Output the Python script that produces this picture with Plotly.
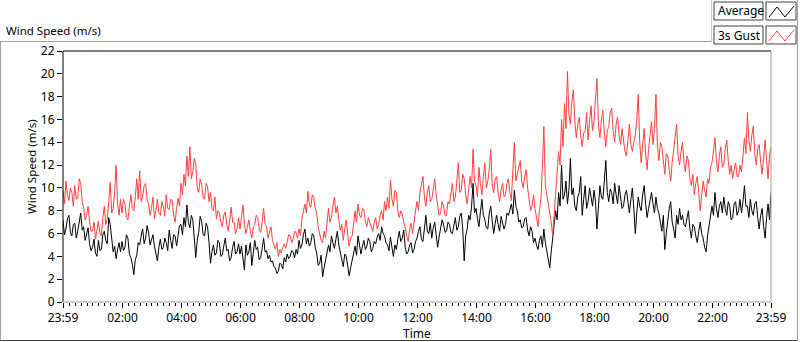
import plotly.graph_objects as go
import pandas as pd

# ---- data (3-minute samples) ----
start_time = "2020-01-01 23:59"
sample_minutes = 3

average = [
    7.2, 5.9, 6.4, 7.3, 7.6, 6.1, 5.8, 6.8, 6.9, 5.6, 6.2, 7.1, 7.8, 6.3, 6.6, 5.4, 5.9, 6.5, 5.1, 4.5,
    4.8, 5.5, 4.3, 4.0, 5.4, 4.5, 4.6, 5.9, 6.2, 5.4, 5.1, 7.4, 6.8, 5.6, 4.4, 4.9, 3.8, 4.6, 5.2, 4.4,
    5.3, 4.5, 4.8, 5.9, 5.6, 4.2, 3.9, 3.3, 2.4, 3.7, 4.1, 5.2, 5.0, 5.8, 6.4, 5.1, 5.6, 6.7, 6.1, 5.0,
    5.4, 5.9, 4.9, 4.3, 3.6, 4.8, 5.5, 4.6, 4.8, 5.6, 5.2, 4.5, 6.3, 5.4, 4.7, 5.9, 5.8, 4.9, 5.9, 6.7,
    6.8, 5.9, 7.4, 6.6, 8.5, 7.0, 6.5, 7.6, 7.2, 5.6, 3.9, 5.4, 6.1, 7.5, 7.1, 5.9, 5.8, 6.9, 6.6, 5.2,
    3.4, 4.4, 5.0, 4.1, 4.3, 5.4, 5.2, 4.0, 4.1, 4.9, 5.6, 4.5, 4.6, 3.6, 3.9, 4.8, 5.3, 4.2, 4.4, 5.1,
    4.2, 4.9, 3.6, 2.8, 5.0, 4.1, 4.4, 5.2, 3.2, 4.3, 5.4, 4.6, 4.8, 3.7, 3.9, 4.7, 5.6, 4.4, 4.5, 3.8,
    4.1, 3.5, 3.6, 3.1, 3.0, 2.5, 2.7, 3.4, 3.3, 2.9, 3.9, 3.5, 4.2, 3.8, 4.0, 4.5, 4.4, 3.9, 4.6, 4.2,
    5.4, 4.7, 5.0, 5.9, 6.4, 5.1, 5.6, 4.9, 5.2, 6.0, 5.8, 4.8, 4.3, 3.2, 3.4, 4.1, 2.2, 3.0, 3.8, 4.6,
    5.0, 4.4, 5.8, 5.2, 4.7, 5.5, 6.2, 5.0, 4.4, 3.6, 3.1, 4.2, 4.0, 3.2, 2.3, 3.0, 3.6, 4.4, 4.9, 4.1,
    5.8, 5.0, 4.2, 4.9, 5.4, 4.6, 4.9, 5.6, 5.3, 4.4, 4.7, 5.3, 5.1, 5.7, 6.0, 5.4, 6.6, 6.0, 5.8, 5.2,
    5.0, 4.5, 5.7, 4.8, 4.0, 5.0, 4.6, 5.5, 6.2, 5.3, 5.6, 6.3, 4.8, 4.2, 4.4, 5.0, 5.2, 4.3, 4.6, 5.3,
    5.6, 6.2, 6.6, 5.5, 5.3, 6.4, 7.6, 6.2, 6.0, 6.9, 5.6, 6.5, 7.0, 5.9, 4.8, 5.7, 6.4, 7.2, 6.8, 6.1,
    6.2, 7.0, 6.8, 6.1, 6.0, 6.9, 7.4, 6.3, 6.6, 7.5, 7.8, 6.4, 3.6, 5.8, 6.4, 7.6, 7.2, 8.4, 10.4, 7.8,
    8.2, 7.3, 6.6, 7.9, 9.0, 7.6, 7.2, 6.5, 6.4, 7.8, 8.4, 7.1, 6.0, 6.9, 7.6, 6.8, 6.2, 7.5, 7.0, 6.4,
    6.8, 7.8, 7.6, 8.2, 8.6, 7.7, 9.8, 8.4, 8.0, 7.0, 7.2, 6.5, 6.6, 7.3, 7.4, 6.3, 5.8, 6.6, 6.2, 5.2,
    5.6, 5.0, 4.6, 5.4, 5.8, 4.8, 6.4, 5.2, 4.4, 3.6, 3.0, 4.4, 5.6, 7.0, 8.0, 7.2, 9.6, 8.4, 12.0, 9.0,
    9.4, 10.6, 8.6, 9.8, 12.6, 9.4, 10.0, 8.4, 8.0, 9.2, 9.6, 11.0, 7.6, 9.0, 10.2, 8.2, 8.8, 10.0, 9.2, 8.4,
    9.8, 8.8, 6.4, 8.6, 10.2, 9.2, 9.0, 10.6, 12.4, 9.6, 8.8, 9.9, 9.6, 8.6, 10.4, 9.4, 8.6, 10.2, 9.4, 8.2,
    8.4, 9.4, 9.8, 8.6, 7.8, 9.0, 10.0, 8.2, 6.0, 7.8, 9.2, 8.4, 8.0, 9.4, 10.2, 8.6, 7.4, 8.2, 8.8, 9.6,
    8.6, 7.8, 9.2, 8.2, 7.8, 6.8, 6.2, 7.6, 4.6, 6.0, 7.4, 8.2, 8.8, 7.0, 6.4, 5.6, 7.6, 6.8, 8.2, 7.2,
    7.6, 6.8, 6.6, 7.4, 8.0, 6.4, 5.6, 6.8, 6.6, 5.8, 5.2, 6.2, 7.0, 6.0, 5.6, 4.8, 4.4, 5.8, 6.8, 7.6,
    8.4, 7.6, 9.6, 8.2, 7.4, 8.4, 8.8, 7.8, 9.2, 8.2, 7.6, 8.8, 8.4, 7.2, 7.4, 8.6, 8.8, 7.6, 8.0, 9.0,
    7.8, 8.8, 10.2, 8.4, 8.4, 7.4, 9.0, 8.0, 7.6, 8.6, 8.8, 7.4, 6.4, 7.6, 8.2, 6.6, 5.6, 7.4, 8.6, 7.2,
    9.6,
]

gust = [
    9.8, 8.6, 10.6, 9.4, 8.9, 10.0, 9.6, 8.4, 10.2, 9.0, 9.1, 10.8, 10.4, 8.8, 8.3, 7.2, 7.6, 8.4, 7.0, 6.2,
    6.2, 7.0, 5.5, 6.4, 7.1, 6.0, 5.8, 7.4, 8.4, 6.8, 7.3, 8.8, 10.5, 7.8, 8.2, 9.6, 12.0, 8.6, 7.6, 9.0,
    7.8, 9.0, 8.6, 7.4, 7.2, 8.4, 9.4, 8.2, 8.0, 9.2, 10.8, 9.0, 11.5, 8.8, 9.2, 10.2, 10.4, 9.0, 8.6, 7.6,
    8.2, 9.2, 7.3, 8.0, 9.0, 7.8, 7.6, 8.8, 8.4, 7.5, 9.4, 8.2, 8.1, 9.0, 8.9, 7.6, 7.0, 8.2, 9.1, 8.4,
    10.4, 9.4, 11.2, 10.2, 12.8, 11.0, 13.6, 10.8, 11.4, 12.6, 12.1, 10.0, 9.6, 10.8, 10.3, 9.2, 9.0, 10.4, 10.1, 8.8,
    9.6, 8.2, 8.0, 9.2, 7.3, 8.0, 7.8, 7.0, 6.6, 7.6, 7.9, 6.8, 6.2, 7.2, 8.3, 7.0, 7.0, 6.0, 6.4, 7.4,
    6.4, 7.4, 8.5, 6.8, 6.0, 6.6, 7.2, 6.2, 5.6, 6.6, 6.8, 7.6, 7.4, 6.4, 6.1, 7.0, 8.2, 6.8, 6.6, 5.6,
    6.0, 6.6, 5.4, 5.0, 4.6, 5.2, 4.0, 4.6, 4.3, 4.8, 5.1, 4.7, 5.4, 5.9, 5.8, 5.2, 5.5, 6.2, 6.1, 5.6,
    6.4, 5.8, 7.3, 8.0, 8.6, 7.8, 9.7, 8.6, 8.3, 9.4, 9.2, 8.2, 7.8, 6.6, 5.9, 5.4, 5.2, 6.2, 5.6, 6.8,
    8.2, 7.0, 7.4, 8.4, 9.2, 7.8, 8.4, 7.2, 6.3, 6.8, 5.4, 6.4, 7.2, 6.0, 4.9, 5.6, 5.8, 6.8, 8.0, 7.0,
    8.6, 7.6, 7.4, 8.2, 8.1, 7.0, 6.6, 7.4, 7.0, 6.4, 6.2, 7.0, 7.4, 6.4, 6.8, 7.6, 8.0, 7.2, 8.8, 8.0,
    9.2, 8.2, 10.7, 9.0, 8.4, 9.8, 9.6, 8.0, 7.4, 8.0, 7.7, 7.0, 6.6, 5.8, 5.3, 6.4, 6.9, 6.0, 7.2, 8.0,
    8.8, 8.0, 9.6, 10.4, 11.0, 9.2, 8.4, 9.6, 10.2, 8.8, 9.0, 9.8, 10.8, 9.4, 8.6, 7.6, 7.8, 8.8, 8.4, 7.6,
    7.6, 8.8, 8.6, 9.6, 10.4, 8.8, 9.2, 10.6, 12.2, 9.6, 9.8, 11.2, 10.8, 9.4, 8.6, 9.8, 11.0, 10.0, 13.4, 10.6,
    10.2, 9.2, 11.8, 10.4, 9.4, 11.0, 12.2, 10.0, 10.6, 11.6, 13.4, 10.2, 9.6, 10.8, 11.0, 9.6, 8.8, 9.8, 10.4, 9.2,
    9.4, 10.4, 10.8, 9.6, 8.9, 11.6, 14.0, 10.6, 11.2, 12.0, 12.4, 10.6, 10.0, 11.0, 11.6, 10.0, 9.2, 8.0, 8.4, 9.4,
    8.2, 7.4, 6.6, 8.0, 9.0, 11.8, 15.4, 10.2, 9.4, 8.6, 8.2, 7.0, 5.8, 7.6, 9.0, 11.4, 13.2, 12.0, 16.0, 13.6,
    17.4, 15.2, 20.2, 16.4, 15.6, 17.6, 18.6, 15.8, 14.4, 15.6, 16.2, 14.6, 13.6, 14.8, 15.0, 16.6, 14.2, 15.8, 17.2, 15.0,
    15.8, 17.8, 19.6, 15.6, 14.4, 16.0, 16.8, 14.8, 13.6, 15.0, 15.4, 16.6, 17.0, 15.0, 14.0, 15.6, 16.2, 14.6, 13.8, 15.2,
    14.2, 13.2, 12.8, 14.6, 15.6, 13.8, 13.2, 14.0, 14.6, 16.0, 18.2, 14.0, 12.2, 13.8, 15.2, 13.0, 11.6, 13.4, 14.4, 15.8,
    13.8, 15.2, 18.2, 13.6, 12.4, 14.0, 13.6, 12.0, 11.2, 13.0, 12.8, 11.6, 10.6, 12.2, 13.2, 14.4, 15.6, 12.8, 12.0, 13.2,
    14.0, 12.2, 11.4, 12.8, 12.4, 10.8, 10.2, 11.2, 9.4, 10.4, 11.0, 9.6, 8.0, 9.4, 10.6, 9.8, 9.2, 10.8, 10.4, 11.8,
    12.2, 13.2, 14.4, 12.4, 11.4, 12.8, 13.6, 11.8, 12.0, 13.4, 14.2, 12.4, 11.2, 12.0, 10.8, 11.6, 12.2, 11.0, 11.0, 12.0,
    11.4, 12.8, 14.4, 13.0, 16.6, 14.2, 13.2, 14.6, 15.4, 13.0, 12.0, 13.4, 13.8, 12.2, 11.2, 12.6, 14.2, 12.4, 10.8, 12.8,
    13.6,
]

series_names = ["Average", "3s Gust"]
series_colors = ["#000000", "#ff4040"]

x_tick_vals = ["2020-01-01 23:59", "2020-01-02 02:00", "2020-01-02 04:00",
               "2020-01-02 06:00", "2020-01-02 08:00", "2020-01-02 10:00",
               "2020-01-02 12:00", "2020-01-02 14:00", "2020-01-02 16:00",
               "2020-01-02 18:00", "2020-01-02 20:00", "2020-01-02 22:00",
               "2020-01-02 23:59"]
x_tick_text = ["23:59", "02:00", "04:00", "06:00", "08:00", "10:00", "12:00",
               "14:00", "16:00", "18:00", "20:00", "22:00", "23:59"]
y_tick_vals = list(range(0, 23, 2))

times = pd.date_range(start_time, periods=len(average), freq=f"{sample_minutes}min")

FONT = "Noto Sans"
W, H = 800, 342
L, R, T, B = 63, 29, 51, 40
PW, PH = W - L - R, H - T - B


def px(x):
    return (x - L) / PW


def py(y):
    return (H - B - y) / PH


fig = go.Figure()
for vals, name, col in zip([average, gust], series_names, series_colors):
    fig.add_trace(go.Scatter(x=times, y=vals, mode="lines", name=name,
                             line=dict(color=col, width=1), showlegend=False,
                             hoverinfo="skip"))

shapes = []


def line(x0, y0, x1, y1, color, width=1):
    shapes.append(dict(type="line", xref="paper", yref="paper",
                       x0=px(x0), y0=py(y0), x1=px(x1), y1=py(y1),
                       line=dict(color=color, width=width), layer="above"))


# plot-area borders (sunken look)
shapes.append(dict(type="line", xref="paper", yref="paper", x0=0, y0=1, x1=1, y1=1,
                   line=dict(color="#000000", width=1), layer="above"))
shapes.append(dict(type="line", xref="paper", yref="paper", x0=0, y0=0, x1=0, y1=1,
                   line=dict(color="#000000", width=1), layer="above"))
shapes.append(dict(type="line", xref="paper", yref="paper", x0=1, y0=0, x1=1, y1=1,
                   line=dict(color="#a0a0a0", width=1), layer="above"))
shapes.append(dict(type="line", xref="paper", yref="paper", x0=0, y0=0, x1=1, y1=0,
                   line=dict(color="#a0a0a0", width=1), layer="above"))

# outer frame
line(0.5, 41.5, 711.5, 41.5, "#a0a0a0")
line(711.5, 0, 711.5, 41.5, "#c8c8c8")
line(0.5, 41.5, 0.5, 341, "#a0a0a0")
line(0.5, 340.5, 798, 340.5, "#404040")
line(797.5, 0, 797.5, 341, "#a0a0a0")

# legend boxes
for (y0, y1, name, col) in [(2, 20, series_names[0], series_colors[0]),
                            (26, 44, series_names[1], series_colors[1])]:
    shapes.append(dict(type="rect", xref="paper", yref="paper",
                       x0=px(714), x1=px(763), y0=py(y1), y1=py(y0),
                       line=dict(color="#404040", width=1), fillcolor="white", layer="above"))
    shapes.append(dict(type="rect", xref="paper", yref="paper",
                       x0=px(766), x1=px(796), y0=py(y1), y1=py(y0),
                       line=dict(color="#404040", width=1), fillcolor="white", layer="above"))
    pts = [(769, y1 - 3), (777, y0 + 5), (785, y1 - 3), (794, y0 + 4)]
    path = "M " + " L ".join(f"{px(a)},{py(b)}" for a, b in pts)
    shapes.append(dict(type="path", xref="paper", yref="paper", path=path,
                       line=dict(color=col, width=1), layer="above"))

annotations = [
    dict(text="Wind Speed (m/s)", xref="paper", yref="paper", x=px(4), y=py(30),
         xanchor="left", yanchor="middle", showarrow=False,
         font=dict(family=FONT, size=11.5, color="#000000")),
    dict(text="Time", xref="paper", yref="paper", x=0.5, y=py(333),
         xanchor="center", yanchor="middle", showarrow=False,
         font=dict(family=FONT, size=12, color="#000000")),
    dict(text="Wind Speed (m/s)", xref="paper", yref="paper", x=px(31), y=py(167),
         xanchor="center", yanchor="middle", showarrow=False, textangle=-90,
         font=dict(family=FONT, size=11.5, color="#000000")),
    dict(text=series_names[0], xref="paper", yref="paper", x=px(716), y=py(11),
         xanchor="left", yanchor="middle", showarrow=False,
         font=dict(family=FONT, size=12, color="#000000")),
    dict(text=series_names[1], xref="paper", yref="paper", x=px(716), y=py(35),
         xanchor="left", yanchor="middle", showarrow=False,
         font=dict(family=FONT, size=12, color="#000000")),
]

fig.update_layout(
    width=W, height=H,
    margin=dict(l=L, r=R, t=T, b=B, pad=0),
    paper_bgcolor="white", plot_bgcolor="white",
    font=dict(family=FONT, size=12, color="#000000"),
    shapes=shapes, annotations=annotations,
    showlegend=False, hovermode=False,
    xaxis=dict(
        range=[x_tick_vals[0], x_tick_vals[-1]],
        tickmode="array", tickvals=x_tick_vals, ticktext=x_tick_text,
        ticks="outside", ticklen=5, tickcolor="#000000", tickwidth=1,
        showgrid=False, zeroline=False, showline=False,
        tickfont=dict(family=FONT, size=12, color="#000000"),
        minor=dict(ticks="outside", ticklen=3, tickcolor="#000000",
                   tickmode="linear", tick0="2020-01-02 00:00", dtick=12 * 60 * 1000,
                   showgrid=False),
    ),
    yaxis=dict(
        range=[0, 22], tickmode="array", tickvals=y_tick_vals,
        ticks="outside", ticklen=5, tickcolor="#000000", tickwidth=1,
        showgrid=False, zeroline=False, showline=False,
        tickfont=dict(family=FONT, size=12, color="#000000"),
    ),
)

fig.write_html("out.html", config={"displayModeBar": False},
               post_script="document.body.style.margin='0px';")
